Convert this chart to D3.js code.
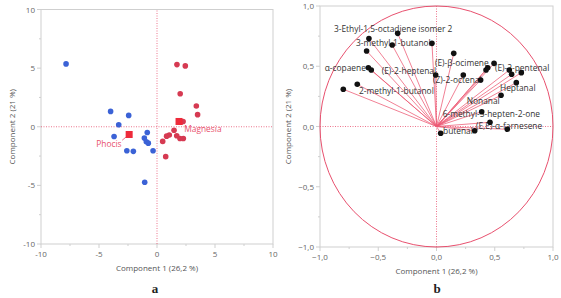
<!DOCTYPE html>
<html>
<head>
<meta charset="utf-8">
<script src="https://cdn.jsdelivr.net/npm/d3@7"></script>
<style>
  body { margin: 0; background: #fff; }
  svg { display: block; }
  text { font-family: "Open Sans", "Noto Sans", sans-serif; }
  .tick-label { font-size: 8px; fill: #666; }
  .axis-title { font-size: 8px; fill: #555; }
  .var-label { font-size: 8.4px; fill: #333; }
  .group-label { font-size: 8.4px; fill: #e8506e; }
  .panel-letter { font-family: "Liberation Serif", serif; font-weight: bold; font-size: 13px; fill: #222; }
</style>
</head>
<body>
<svg id="chart" width="561" height="298"></svg>
<script>
// score plot (panel a)
const phocisX = [-7.84, -4.0, -2.44, -3.3, -3.7, -0.84, -1.09, -0.92, -0.75, -2.6, -2.04, -0.34, -1.06];
const phocisY = [5.36, 1.31, 0.97, 0.17, -0.83, -0.49, -0.97, -1.28, -1.4, -2.05, -2.1, -2.05, -4.73];
const magnesiaX = [1.72, 2.44, 2.0, 3.39, 3.5, 1.9, 2.1, 2.0, 2.25, 1.47, 1.06, 0.83, 1.7, 1.98, 2.27, 0.49, 0.75];
const magnesiaY = [5.3, 5.19, 2.82, 1.77, 1.03, 0.5, 0.42, 0.38, 0.45, -0.3, -0.71, -0.8, -0.77, -1.0, -1.0, -1.25, -2.55];
const groupNames = ["Phocis", "Magnesia"];
const centroidX = [-2.4, 1.9];
const centroidY = [-0.66, 0.45];
const scoreTicks = [-10, -5, 0, 5, 10];

// loading plot (panel b)
const loadX = [-0.80, -0.68, -0.60, -0.58, -0.585, -0.56, -0.38, -0.333, -0.039, -0.007, 0.148, 0.23, 0.379,
  0.425, 0.44, 0.494, 0.625, 0.645, 0.728, 0.685, 0.554, 0.388, 0.459, 0.608, 0.328, 0.036];
const loadY = [0.309, 0.35, 0.627, 0.73, 0.488, 0.469, 0.676, 0.773, 0.69, 0.427, 0.607, 0.427, 0.386,
  0.469, 0.488, 0.524, 0.469, 0.433, 0.447, 0.364, 0.259, 0.123, 0.035, -0.023, -0.035, -0.056];
const varNames = ["3-Ethyl-1,5-octadiene isomer 2", "3-methyl-1-butanol", "(E)-β-ocimene", "(E)-2-pentenal",
  "α-copaene", "(E)-2-heptenal", "(Z)-2-octenal", "2-methyl-1-butanol", "Heptanal", "Nonanal",
  "6-methyl-5-hepten-2-one", "(E,E)-α-farnesene", "butenal"];
const loadTicks = [-1, -0.5, 0, 0.5, 1];
const axisTitleX = "Component 1  (26,2 %)";
const axisTitleY = "Component 2  (21 %)";

// label placement in data units (start x, middle y)
const varLabelAt = [[-0.88, 0.807], [-0.691, 0.69], [-0.013, 0.524], [0.502, 0.488], [-0.96, 0.483],
  [-0.47, 0.461], [-0.03, 0.386], [-0.665, 0.297], [0.545, 0.317], [0.259, 0.212], [0.053, 0.104],
  [0.339, 0.004], [0.056, -0.037]];

const svg = d3.select("#chart");
const fmtComma = (d) => d3.format(".1f")(d).replace(".", ",");

const FRAME = "#cfcfcf";
const REF = "#e8506e";

function frame(g, x, y, major, minor, fmt) {
  const [x0, x1] = x.range();
  const [y0, y1] = y.range();
  g.append("rect")
    .attr("x", x0).attr("y", y1)
    .attr("width", x1 - x0).attr("height", y0 - y1)
    .attr("fill", "none").attr("stroke", FRAME).attr("stroke-width", 1);

  g.selectAll("line.xt").data(minor).join("line")
    .attr("x1", (d) => x(d)).attr("x2", (d) => x(d))
    .attr("y1", y0).attr("y2", (d) => y0 + (major.includes(d) ? 4 : 2))
    .attr("stroke", FRAME);
  g.selectAll("line.yt").data(minor).join("line")
    .attr("y1", (d) => y(d)).attr("y2", (d) => y(d))
    .attr("x1", x0).attr("x2", (d) => x0 - (major.includes(d) ? 4 : 2))
    .attr("stroke", FRAME);

  g.selectAll("text.xl").data(major).join("text")
    .attr("class", "tick-label")
    .attr("x", (d) => x(d)).attr("y", y0 + 13)
    .attr("text-anchor", "middle")
    .text(fmt);
  g.selectAll("text.yl").data(major).join("text")
    .attr("class", "tick-label")
    .attr("x", x0 - 6).attr("y", (d) => y(d) + 3)
    .attr("text-anchor", "end")
    .text(fmt);

  // reference lines through the origin
  g.append("line")
    .attr("x1", x0).attr("x2", x1).attr("y1", y(0)).attr("y2", y(0))
    .attr("stroke", REF).attr("stroke-width", 0.8).attr("stroke-dasharray", "1,1.5");
  g.append("line")
    .attr("y1", y0).attr("y2", y1).attr("x1", x(0)).attr("x2", x(0))
    .attr("stroke", REF).attr("stroke-width", 0.8).attr("stroke-dasharray", "1,1.5");

  g.append("text").attr("class", "axis-title")
    .attr("x", (x0 + x1) / 2).attr("y", y0 + 27)
    .attr("text-anchor", "middle").text(axisTitleX);
}

// ---- panel a ----
const xa = d3.scaleLinear().domain([-10, 10]).range([41, 273]);
const ya = d3.scaleLinear().domain([-10, 10]).range([244, 9.5]);
const ga = svg.append("g");
frame(ga, xa, ya, scoreTicks, d3.range(-10, 10.01, 2.5), (d) => d);
ga.append("text").attr("class", "axis-title")
  .attr("transform", `translate(15,${(ya(10) + ya(-10)) / 2}) rotate(-90)`)
  .attr("text-anchor", "middle").text(axisTitleY);

ga.selectAll("circle.phocis").data(d3.zip(phocisX, phocisY)).join("circle")
  .attr("cx", (d) => xa(d[0])).attr("cy", (d) => ya(d[1])).attr("r", 2.8)
  .attr("fill", "#3b62d6");
ga.selectAll("circle.magnesia").data(d3.zip(magnesiaX, magnesiaY)).join("circle")
  .attr("cx", (d) => xa(d[0])).attr("cy", (d) => ya(d[1])).attr("r", 2.8)
  .attr("fill", "#d63a52");

// group means
ga.append("line")
  .attr("x1", xa(-3.0)).attr("y1", ya(-1.15))
  .attr("x2", xa(centroidX[0])).attr("y2", ya(centroidY[0]))
  .attr("stroke", REF).attr("stroke-width", 0.8);
ga.selectAll("rect.mean").data(d3.zip(centroidX, centroidY)).join("rect")
  .attr("x", (d) => xa(d[0]) - 3.5).attr("y", (d) => ya(d[1]) - 3.5)
  .attr("width", 7).attr("height", 7)
  .attr("fill", "#ee2a3a");
ga.append("text").attr("class", "group-label")
  .attr("x", xa(-3.05)).attr("y", ya(-1.47) + 3)
  .attr("text-anchor", "end").text(groupNames[0]);
ga.append("text").attr("class", "group-label")
  .attr("x", xa(2.35)).attr("y", ya(-0.22) + 3)
  .text(groupNames[1]);

ga.append("text").attr("class", "panel-letter")
  .attr("x", 155).attr("y", 293).attr("text-anchor", "middle").text("a");

// ---- panel b ----
const xb = d3.scaleLinear().domain([-1, 1]).range([320, 553]);
const yb = d3.scaleLinear().domain([-1, 1]).range([247, 6]);
const gb = svg.append("g");
frame(gb, xb, yb, loadTicks, d3.range(-1, 1.001, 0.25).map((d) => +d.toFixed(2)), fmtComma);
gb.append("text").attr("class", "axis-title")
  .attr("transform", `translate(291,${(yb(1) + yb(-1)) / 2}) rotate(-90)`)
  .attr("text-anchor", "middle").text(axisTitleY);

gb.append("ellipse")
  .attr("cx", xb(0)).attr("cy", yb(0))
  .attr("rx", xb(1) - xb(0)).attr("ry", yb(0) - yb(1))
  .attr("fill", "none").attr("stroke", "#e8506e").attr("stroke-width", 1);

const loadings = d3.zip(loadX, loadY);
gb.selectAll("line.ray").data(loadings).join("line")
  .attr("x1", xb(0)).attr("y1", yb(0))
  .attr("x2", (d) => xb(d[0])).attr("y2", (d) => yb(d[1]))
  .attr("stroke", "#ec5a74").attr("stroke-width", 0.9).attr("stroke-opacity", 0.85);

gb.selectAll("text.var").data(d3.zip(varNames, varLabelAt)).join("text")
  .attr("class", "var-label")
  .attr("x", (d) => xb(d[1][0])).attr("y", (d) => yb(d[1][1]) + 3)
  .text((d) => d[0]);

gb.selectAll("circle.load").data(loadings).join("circle")
  .attr("cx", (d) => xb(d[0])).attr("cy", (d) => yb(d[1])).attr("r", 2.8)
  .attr("fill", "#111");

gb.append("text").attr("class", "panel-letter")
  .attr("x", 437).attr("y", 293).attr("text-anchor", "middle").text("b");
</script>
</body>
</html>
